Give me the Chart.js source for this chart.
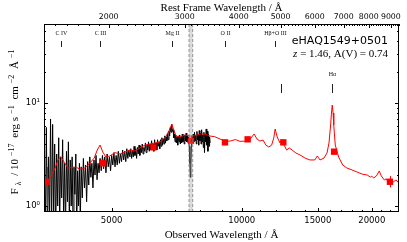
<!DOCTYPE html>
<html>
<head>
<meta charset="utf-8">
<script src="https://cdn.jsdelivr.net/npm/chart.js@4"></script>
<style>
  html, body { margin: 0; padding: 0; background: #fff; }
  #wrap { width: 407px; height: 242px; }
</style>
</head>
<body>
<div id="wrap"><canvas id="spectrumChart"></canvas></div>
<script>
const Z = 1.46;
const X_MIN = 3486, X_MAX = 23120;
const Y_MIN = 0.875, Y_MAX = 58.5;

// observed spectrum (black)
const specWave = [3490, 3510, 3530, 3550, 3570, 3590, 3610, 3630, 3650, 3670, 3690, 3710, 3730, 3750, 3770, 3790, 3810, 3830, 3850, 3870,
  3890, 3910, 3930, 3950, 3970, 3990, 4010, 4030, 4050, 4070, 4090, 4110, 4130, 4150, 4170, 4190, 4210, 4230, 4250,
  4275, 4300, 4325, 4350, 4375, 4400, 4425, 4450, 4475, 4500, 4525, 4550, 4575, 4600, 4625, 4650, 4675, 4700,
  4730, 4760, 4790, 4820, 4850, 4880, 4910, 4940, 4970, 5000, 5030, 5060, 5090, 5120, 5150, 5180, 5210, 5240, 5270, 5300,
  5330, 5360, 5390, 5420, 5450, 5480, 5510,
  5535, 5560, 5585, 5610, 5635, 5660, 5685, 5710, 5735, 5760, 5785, 5810, 5835, 5860, 5885, 5910, 5935, 5960, 5985, 6010,
  6035, 6060, 6085, 6110, 6135, 6160, 6185, 6210, 6235, 6260, 6285, 6310, 6335, 6360, 6385, 6410, 6435, 6460,
  6485, 6510, 6535, 6560, 6585, 6610, 6635, 6660, 6685, 6710, 6735, 6760, 6785, 6810, 6835, 6860, 6885, 6910, 6935, 6960,
  6985, 7010, 7035, 7060, 7085, 7110, 7135, 7160, 7185, 7210, 7235, 7260, 7285, 7310, 7335, 7360, 7385, 7410, 7435, 7460,
  7485, 7510, 7535, 7560, 7585, 7605, 7625, 7650,
  7675, 7700, 7725, 7750, 7775, 7800, 7825, 7850, 7875, 7900, 7925, 7950, 7975, 8000, 8025, 8050, 8075, 8100, 8125, 8150,
  8175, 8200, 8225, 8250, 8275, 8300, 8325, 8350, 8375, 8400, 8425, 8450];
const specFlux = [1.6, 0.6, 5.8, 0.5, 3.0, 0.7, 7.0, 0.6, 6.2, 0.8, 4.0, 0.5, 3.2, 1.0, 4.6, 0.7, 3.0, 1.2, 4.4, 0.8,
  2.6, 0.6, 3.4, 1.1, 4.2, 0.7, 2.8, 1.0, 3.0, 0.6, 2.4, 1.3, 3.2, 0.6, 2.2, 1.0, 2.6, 0.7, 2.4,
  1.2, 2.9, 1.5, 2.5, 1.1, 2.7, 1.6, 3.0, 1.9, 2.6, 1.5, 2.8, 2.0, 3.1, 1.8, 2.6, 2.1, 2.9,
  2.2, 3.1, 2.3, 3.0, 2.1, 3.2, 2.4, 3.0, 2.2, 3.1, 2.5, 3.3, 2.4, 3.1, 2.5, 3.4, 2.6, 3.2, 2.7, 3.5,
  2.8, 3.4, 2.7, 3.6, 2.9, 3.5, 3.0,
  3.6, 2.9, 3.5, 3.0, 3.8, 3.1, 3.6, 2.9, 3.7, 3.2, 3.9, 3.1, 3.8, 3.3, 4.0, 3.2, 3.7, 3.4, 4.1, 3.3,
  3.9, 3.5, 4.2, 3.4, 4.0, 3.5, 4.3, 3.6, 4.0, 3.4, 4.4, 3.7, 4.1, 3.5, 4.4, 3.8, 4.2, 3.6,
  4.4, 3.8, 4.6, 3.9, 4.5, 4.0, 4.8, 4.1, 4.7, 4.3, 5.0, 4.4, 5.3, 4.8, 5.8, 5.2, 6.2, 5.3, 5.5, 4.6,
  5.0, 4.2, 4.9, 4.1, 4.7, 3.9, 4.8, 4.2, 4.9, 4.0, 4.7, 4.1, 5.0, 4.2, 4.8, 4.0, 4.9, 4.3, 5.1, 4.2,
  4.8, 4.1, 4.7, 3.8, 2.6, 1.9, 2.5, 3.9,
  4.8, 4.1, 5.0, 4.2, 5.2, 4.3, 4.9, 4.0, 5.3, 4.4, 5.0, 3.9, 5.4, 4.3, 5.1, 4.0, 5.5, 4.2, 4.9, 3.7,
  5.2, 3.3, 5.0, 4.2, 5.6, 3.9, 5.3, 3.4, 5.0, 3.8, 4.7, 4.1];

// composite model (red)
const modelWave = [3490, 3560, 3620, 3700, 3755, 3810, 3845, 3880, 3960, 4050, 4135, 4224, 4330, 4450, 4555, 4630, 4700, 4770,
  4850, 4950, 5090, 5226, 5370, 5510, 5660, 5814, 5970, 6133, 6300, 6470, 6560, 6680, 6800, 6890, 6960, 7050, 7200, 7390,
  7595, 7800, 8007, 8220, 8446, 8660, 8907, 9150, 9400, 9665, 9910, 10180, 10460, 10680, 10850, 11020, 11200, 11370, 11550,
  11730, 11860, 11950, 12080, 12265, 12380, 12500, 12700, 12890, 13080, 13350, 13645, 14010, 14380, 14760, 14960, 15175,
  15500, 15750, 15920, 16060, 16130, 16200, 16270, 16330, 16460, 16760, 17130, 17510, 17990, 18480, 19000, 19520, 19850,
  20000, 20200, 20500, 20810, 21040, 21380, 21600, 21810, 22050, 22270, 22500, 22750, 23120];
const modelFlux = [1.56, 1.75, 1.95, 2.34, 2.80, 3.01, 2.85, 2.67, 2.34, 2.36, 2.39, 2.26, 2.34, 2.61, 2.92, 3.50, 3.91, 3.34,
  2.99, 3.06, 3.30, 3.20, 3.34, 3.50, 3.42, 3.66, 3.91, 4.00, 4.09, 4.18, 4.37, 4.78, 5.47, 6.25, 5.47, 4.78, 4.68, 4.89,
  4.78, 4.80, 5.00, 5.00, 4.78, 4.71, 4.47, 4.27, 4.27, 4.42, 4.24, 4.27, 4.47, 5.00, 4.47, 4.27, 4.37, 3.91, 3.74,
  3.91, 4.57, 5.59, 4.68, 4.09, 4.42, 4.00, 3.50, 3.66, 3.50, 3.27, 3.13, 2.92, 2.80, 2.80, 3.06, 2.80,
  2.92, 3.27, 4.09, 6.12, 8.00, 9.56, 8.00, 6.12, 3.91, 2.99, 2.50, 2.34, 2.24, 2.14, 2.04, 2.00, 1.91,
  1.95, 1.87, 1.96, 2.19, 1.96, 1.79, 1.84, 1.71, 1.76, 1.67, 1.73, 1.79, 1.67];

// photometry (red squares with error bars)
const photWave = [3536, 4777, 6246, 7630, 9145, 10320, 12480, 16360, 22030];
const photFlux = [1.72, 2.60, 3.71, 4.31, 4.15, 4.44, 4.15, 3.37, 1.72];
const photLo = [0.98, 2.40, 3.60, 4.15, 3.90, 4.34, 4.00, 3.28, 1.52];
const photHi = [2.39, 2.82, 3.82, 4.48, 4.40, 4.55, 4.30, 3.47, 1.95];

// emission line markers (rest frame)
const lineNames = ['C IV', 'C III', 'Mg II', 'O II', 'Hβ+O III', '', 'Hα'];
const lineRest = [1549, 1909, 2799, 3727, 4861, 5007, 6563];
const lineRow = [0, 0, 0, 0, 0, 1, 1];

// telluric A-band
const bandWave = [7550, 7700];

// ticks
const obsTicks = [5000, 10000, 15000, 20000];
const obsMinor = [4000, 6000, 7000, 8000, 9000, 11000, 12000, 13000, 14000, 16000, 17000, 18000, 19000, 21000, 22000, 23000];
const restTicks = [2000, 3000, 4000, 5000, 6000, 7000, 8000, 9000];
const restMinor = [];
for (let w = 1500; w <= 9400; w += 100) {
    if (!restTicks.includes(w)) restMinor.push(w);
}
const fluxTicks = [1, 10];
const fluxLabels = ['10⁰', '10¹'];
const fluxMinor = [2, 3, 4, 5, 6, 7, 8, 9, 20, 30, 40, 50];

const SERIF = "'Liberation Serif', 'Times New Roman', serif";
const SANS = "'DejaVu Sans', sans-serif";

function richText(ctx, parts, x, y, target) {
    let total = 0;
    parts.forEach(p => { ctx.font = p.font; p.w = ctx.measureText(p.t).width; total += p.w; });
    let gap = target ? (target - total) / (parts.length - 1) : 0;
    if (gap < 0) gap = 0;
    let cx = x - (total + gap * (parts.length - 1)) / 2;
    ctx.textAlign = 'left';
    parts.forEach(p => {
        ctx.font = p.font;
        ctx.fillText(p.t, cx, y + (p.dy || 0));
        cx += p.w + gap;
    });
}

const decorations = {
    id: 'decorations',
    afterDatasetsDraw(chart) {
        const { ctx, chartArea: a, scales } = chart;
        const xs = scales.x, ys = scales.y;
        ctx.save();
        ctx.beginPath();
        ctx.rect(a.left, a.top, a.right - a.left, a.bottom - a.top);
        ctx.clip();

        // telluric band
        const b0 = xs.getPixelForValue(bandWave[0]);
        const b1 = xs.getPixelForValue(bandWave[1]);
        ctx.fillStyle = 'rgba(150,150,150,0.35)';
        ctx.fillRect(b0, a.top, b1 - b0, a.bottom - a.top);
        ctx.strokeStyle = 'rgba(110,110,110,0.7)';
        ctx.lineWidth = 1;
        ctx.setLineDash([3, 2]);
        [b0, b1].forEach(p => {
            ctx.beginPath();
            ctx.moveTo(p, a.top);
            ctx.lineTo(p, a.bottom);
            ctx.stroke();
        });
        ctx.setLineDash([]);

        // error bars
        ctx.strokeStyle = '#ff0000';
        ctx.lineWidth = 1;
        photWave.forEach((w, i) => {
            const px = Math.round(xs.getPixelForValue(w)) + 0.5;
            ctx.beginPath();
            ctx.moveTo(px, ys.getPixelForValue(photLo[i]));
            ctx.lineTo(px, ys.getPixelForValue(photHi[i]));
            ctx.stroke();
        });
        ctx.restore();
    },
    afterDraw(chart) {
        const { ctx, chartArea: a, scales } = chart;
        const xs = scales.x, ys = scales.y, xr = scales.x2;
        ctx.save();
        ctx.strokeStyle = '#000';
        ctx.lineWidth = 1;

        // frame
        ctx.strokeRect(Math.round(a.left) + 0.5, Math.round(a.top) + 0.5,
            Math.round(a.right - a.left) - 1, Math.round(a.bottom - a.top) - 1);

        const vtick = (px, y0, len) => {
            const x = Math.round(px) + 0.5;
            ctx.beginPath(); ctx.moveTo(x, y0); ctx.lineTo(x, y0 + len); ctx.stroke();
        };
        const htick = (py, x0, len) => {
            const y = Math.round(py) + 0.5;
            ctx.beginPath(); ctx.moveTo(x0, y); ctx.lineTo(x0 + len, y); ctx.stroke();
        };
        obsTicks.forEach(v => vtick(xs.getPixelForValue(v), a.bottom, -4));
        obsMinor.forEach(v => vtick(xs.getPixelForValue(v), a.bottom, -2));
        restTicks.forEach(v => vtick(xr.getPixelForValue(v), a.top, 4));
        restMinor.forEach(v => vtick(xr.getPixelForValue(v), a.top, 2));
        fluxTicks.forEach(v => { htick(ys.getPixelForValue(v), a.left, 4); htick(ys.getPixelForValue(v), a.right, -4); });
        fluxMinor.forEach(v => { htick(ys.getPixelForValue(v), a.left, 2); htick(ys.getPixelForValue(v), a.right, -2); });

        // line markers
        ctx.fillStyle = '#111';
        ctx.strokeStyle = '#222';
        ctx.font = '6px ' + SERIF;
        ctx.textAlign = 'center';
        ctx.textBaseline = 'alphabetic';
        lineRest.forEach((w, i) => {
            const px = Math.round(xs.getPixelForValue(w * (1 + Z))) + 0.5;
            const top = lineRow[i] === 0 ? 40 : 15.3;
            const bot = lineRow[i] === 0 ? 35 : 12.5;
            const lab = lineRow[i] === 0 ? 46 : 18.3;
            ctx.beginPath();
            ctx.moveTo(px, ys.getPixelForValue(top));
            ctx.lineTo(px, ys.getPixelForValue(bot));
            ctx.stroke();
            if (lineNames[i]) ctx.fillText(lineNames[i], px, ys.getPixelForValue(lab));
        });

        // object name and redshift
        ctx.fillStyle = '#000';
        ctx.textAlign = 'right';
        ctx.font = '11px ' + SANS;
        ctx.fillText('eHAQ1549+0501', 388, 44);
        const restStr = ' = 1.46, A(V) = 0.74';
        ctx.font = '11px ' + SERIF;
        const rw = ctx.measureText(restStr).width;
        ctx.fillText(restStr, 388, 57);
        ctx.font = 'italic 11px ' + SERIF;
        ctx.fillText('z', 388 - rw, 57);

        // axis titles
        ctx.textAlign = 'center';
        ctx.font = '11px ' + SERIF;
        ctx.fillText('Rest Frame Wavelength / Å', (a.left + a.right) / 2, 11);
        ctx.fillText('Observed Wavelength / Å', (a.left + a.right) / 2, 238);

        ctx.translate(18, 122);
        ctx.rotate(-Math.PI / 2);
        const big = '11px ' + SERIF, small = '8px ' + SERIF;
        richText(ctx, [
            { t: 'F', font: big },
            { t: 'λ', font: small, dy: 3 },
            { t: ' / 10', font: big },
            { t: '−17', font: small, dy: -4 },
            { t: ' erg s', font: big },
            { t: '−1', font: small, dy: -4 },
            { t: ' cm', font: big },
            { t: '−2', font: small, dy: -4 },
            { t: ' Å', font: big },
            { t: '−1', font: small, dy: -4 }
        ], 0, 0, 145);
        ctx.restore();
    }
};

const tickFont = { family: SANS, size: 8.5 };
const topFont = { family: SANS, size: 7.8 };

const ctx = document.getElementById('spectrumChart').getContext('2d');
const spectrumChart = new Chart(ctx, {
    type: 'line',
    data: {
        datasets: [{
            label: 'photometry',
            data: photWave.map((w, i) => ({ x: w, y: photFlux[i] })),
            showLine: false,
            pointStyle: 'rect',
            pointRadius: 4.5,
            pointBackgroundColor: '#ff0000',
            pointBorderWidth: 0,
            borderColor: '#ff0000',
            order: 0
        }, {
            label: 'model',
            data: modelWave.map((w, i) => ({ x: w, y: modelFlux[i] })),
            borderColor: '#ff0000',
            borderWidth: 1,
            pointRadius: 0,
            tension: 0,
            order: 1
        }, {
            label: 'spectrum',
            data: specWave.map((w, i) => ({ x: w, y: specFlux[i] })),
            borderColor: '#000000',
            borderWidth: 1,
            pointRadius: 0,
            tension: 0,
            order: 2
        }]
    },
    options: {
        responsive: true,
        maintainAspectRatio: false,
        animation: false,
        events: [],
        layout: { padding: { right: 8 } },
        plugins: { legend: { display: false }, tooltip: { enabled: false } },
        scales: {
            x: {
                type: 'logarithmic',
                position: 'bottom',
                min: X_MIN,
                max: X_MAX,
                afterBuildTicks: s => { s.ticks = obsTicks.map(v => ({ value: v })); },
                afterFit: s => { s.height = 30; },
                ticks: {
                    autoSkip: false, maxRotation: 0, padding: 4, color: '#000', font: tickFont,
                    callback: v => String(v)
                },
                grid: { display: false, drawTicks: false },
                border: { display: false }
            },
            x2: {
                type: 'logarithmic',
                position: 'top',
                axis: 'x',
                min: X_MIN / (1 + Z),
                max: X_MAX / (1 + Z),
                afterBuildTicks: s => { s.ticks = restTicks.map(v => ({ value: v })); },
                afterFit: s => { s.height = 24; },
                ticks: {
                    autoSkip: false, maxRotation: 0, padding: 2, color: '#000', font: topFont,
                    callback: v => String(v)
                },
                grid: { display: false, drawTicks: false },
                border: { display: false }
            },
            y: {
                type: 'logarithmic',
                position: 'left',
                min: Y_MIN,
                max: Y_MAX,
                afterBuildTicks: s => { s.ticks = fluxTicks.map(v => ({ value: v })); },
                afterFit: s => { s.width = 44; },
                ticks: {
                    autoSkip: false, padding: 4, color: '#000', font: tickFont,
                    callback: v => fluxLabels[fluxTicks.indexOf(v)]
                },
                grid: { display: false, drawTicks: false },
                border: { display: false }
            }
        }
    },
    plugins: [decorations]
});
</script>
</body>
</html>
